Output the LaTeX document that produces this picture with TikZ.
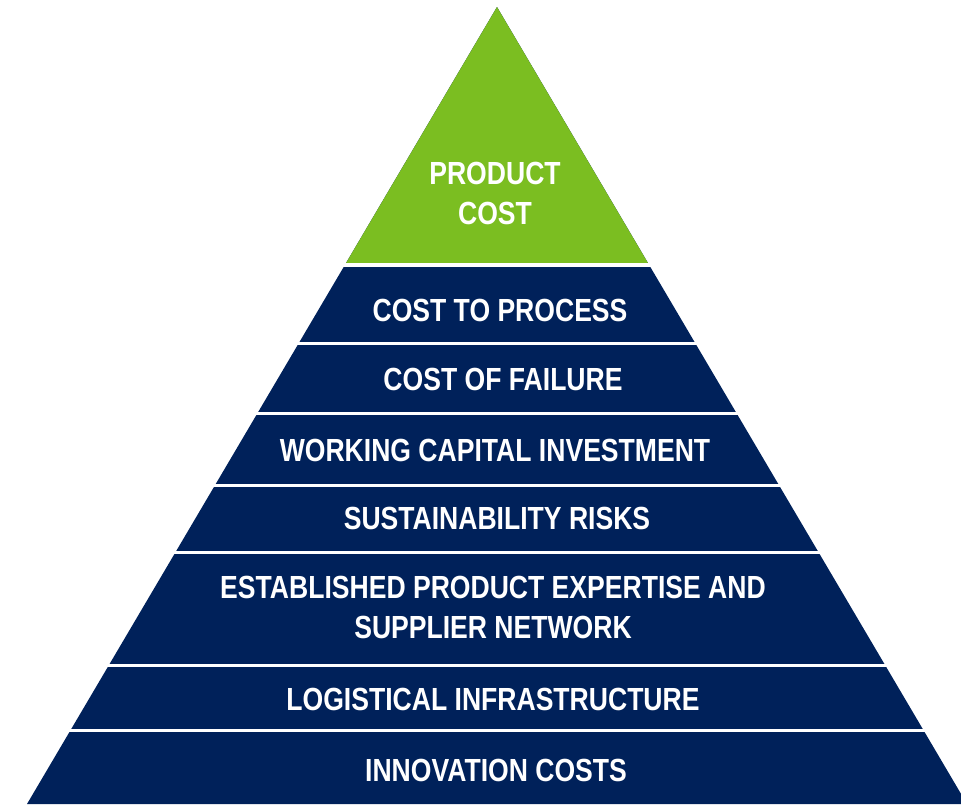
\documentclass[tikz,border=0pt]{standalone}
\usepackage{fontspec}
\newfontfamily\pyrfont[FakeStretch=0.83]{Liberation Sans}
\definecolor{pgreen}{HTML}{7BBE21}
\definecolor{pnavy}{HTML}{00215A}
\begin{document}
\begin{tikzpicture}[x=1pt,y=-1pt,
  lbl/.style={text=white, inner sep=0pt, align=center,
    font=\pyrfont\bfseries\fontsize{32}{40}\selectfont},
  gap/.style={draw=white, line width=3pt}]
\useasboundingbox (0,0) rectangle (961,804);
\clip (0,0) rectangle (961,804);
% pyramid
\coordinate (apex) at (497,7);
\coordinate (bl) at (27,804);
\coordinate (br) at (967,804);
\fill[pnavy] (apex) -- (bl) -- (br) -- cycle;
\begin{scope}
  \clip (apex) -- (bl) -- (br) -- cycle;
  \fill[pgreen] (0,0) rectangle (961,265);
\end{scope}
% white separators
\draw[gap, line width=4pt] (0,265) -- (961,265);
\foreach \yy in {343,413,485,552,665,730}
  \draw[gap] (0,\yy) -- (961,\yy);
% labels
\node[lbl] (top) at (495,193.5) {PRODUCT\\COST};
\node[lbl] (l1) at (500,310) {COST TO PROCESS};
\node[lbl] (l2) at (503,379) {COST OF FAILURE};
\node[lbl] (l3) at (495,450) {WORKING CAPITAL INVESTMENT};
\node[lbl] (l4) at (497,518) {SUSTAINABILITY RISKS};
\node[lbl] (l5) at (493,607) {ESTABLISHED PRODUCT EXPERTISE AND\\SUPPLIER NETWORK};
\node[lbl] (l6) at (493,699) {LOGISTICAL INFRASTRUCTURE};
\node[lbl] (l7) at (496,770) {INNOVATION COSTS};
\end{tikzpicture}
\end{document}
